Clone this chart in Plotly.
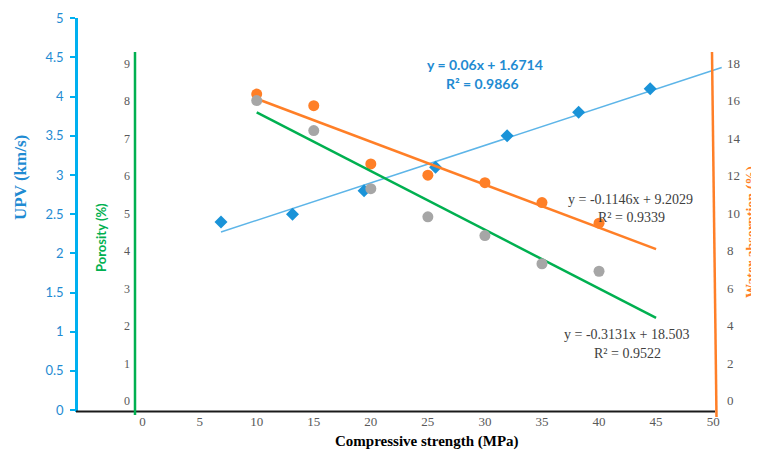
import plotly.graph_objects as go

# ---------------- data ----------------
strength = [10, 15, 20, 25, 30, 35, 40]               # MPa
upv = [2.4, 2.5, 2.8, 3.1, 3.5, 3.8, 4.1]              # km/s
porosity = [8.18, 7.87, 6.32, 6.02, 5.82, 5.29, 4.74]  # % (orange)
water_abs = [16.0, 14.4, 11.3, 9.8, 8.8, 7.3, 6.9]     # % (grey)
trend_x = [10, 45]
upv_fit = [0.06, 1.6714, 0.9866]        # slope, intercept, R2
por_fit = [-0.1146, 9.2029, 0.9339]
wat_fit = [-0.3131, 18.503, 0.9522]
x_ticks = [0, 5, 10, 15, 20, 25, 30, 35, 40, 45, 50]
upv_ticks = [0, 0.5, 1, 1.5, 2, 2.5, 3, 3.5, 4, 4.5, 5]
por_ticks = [0, 1, 2, 3, 4, 5, 6, 7, 8, 9]
wat_ticks = [0, 2, 4, 6, 8, 10, 12, 14, 16, 18]

# ---------------- layout geometry (screen pixels) ----------------
W, H = 759, 454
OFF = 8  # page body margin offset
L, R, T, B = 78, 725, 18, 412


def px(x):
    return (x - L) / (R - L)


def py(y):
    return (B - y) / (B - T)


SERIF = "Liberation Serif"
SANS = "Lato"
BLUE = "#1F8BD2"
ORANGE = "#FF7F27"
GREEN = "#00B050"
GREY_T = "#595959"


def line_of(fit):
    return [fit[0] * x + fit[1] for x in trend_x]


fig = go.Figure()

# UPV (blue) on the main (hidden) x scale
fig.add_trace(go.Scatter(x=trend_x, y=line_of(upv_fit), xaxis="x", yaxis="y",
                         mode="lines", line=dict(color="#5DB5E8", width=1.5),
                         hoverinfo="skip"))
fig.add_trace(go.Scatter(x=strength, y=upv, xaxis="x", yaxis="y", mode="markers",
                         marker=dict(symbol="diamond", size=10, color="#1A93D8")))
# water absorption (grey points, green trend)
fig.add_trace(go.Scatter(x=trend_x, y=line_of(wat_fit), xaxis="x2", yaxis="y3",
                         mode="lines", line=dict(color=GREEN, width=2.5),
                         hoverinfo="skip"))
fig.add_trace(go.Scatter(x=strength, y=water_abs, xaxis="x2", yaxis="y3", mode="markers",
                         marker=dict(symbol="circle", size=11, color="#A6A6A6")))
# porosity (orange)
fig.add_trace(go.Scatter(x=trend_x, y=line_of(por_fit), xaxis="x2", yaxis="y2",
                         mode="lines", line=dict(color=ORANGE, width=2.5),
                         hoverinfo="skip"))
fig.add_trace(go.Scatter(x=strength, y=porosity, xaxis="x2", yaxis="y2", mode="markers",
                         marker=dict(symbol="circle", size=11, color=ORANGE)))

fig.update_layout(
    width=W, height=H,
    margin=dict(l=L - OFF, r=W - (R - OFF), t=T - OFF, b=H - (B - OFF), pad=0,
                autoexpand=False),
    paper_bgcolor="white", plot_bgcolor="rgba(0,0,0,0)",
    showlegend=False,
    xaxis=dict(range=[0.004, 45.23], visible=False, automargin=False),
    xaxis2=dict(range=[-5.662, 51.04], overlaying="x", anchor="y", side="bottom",
                tickvals=x_ticks, showline=False, showgrid=False, automargin=False,
                zeroline=False, ticks="", ticklabelstandoff=0,
                tickfont=dict(family=SERIF, size=13, color=GREY_T)),
    yaxis=dict(range=[-0.0255, 5.004], tickvals=upv_ticks,
               ticktext=[f"{v:g}" for v in upv_ticks], automargin=False,
               showline=True, linecolor="#00B0F0", linewidth=2.5,
               ticks="outside", ticklen=5, tickcolor="#00B0F0", tickwidth=1.5,
               ticklabelstandoff=4,
               showgrid=False, zeroline=False,
               tickfont=dict(family=SANS, size=13, color=BLUE)),
    yaxis2=dict(range=[-0.293, 10.208], overlaying="y", anchor="free", position=px(135),
                side="left", tickvals=por_ticks, showline=False, ticks="",
                ticklabelstandoff=5, automargin=False,
                showgrid=False, zeroline=False,
                tickfont=dict(family=SERIF, size=12, color=GREY_T)),
    yaxis3=dict(range=[-0.602, 20.40], overlaying="y", anchor="free", position=px(714),
                side="right", tickvals=wat_ticks, showline=False, ticks="",
                ticklabelstandoff=12, automargin=False,
                showgrid=False, zeroline=False,
                tickfont=dict(family=SERIF, size=13, color=GREY_T)),
)

# axis lines drawn in paper space
fig.add_shape(type="line", xref="paper", yref="paper", x0=px(76), x1=px(715),
              y0=py(411.5), y1=py(411.5), line=dict(color="#1A1A1A", width=2))
fig.add_shape(type="line", xref="paper", yref="paper", x0=px(135), x1=px(135),
              y0=py(52), y1=py(415), line=dict(color=GREEN, width=2.5))
fig.add_shape(type="line", xref="paper", yref="paper", x0=px(712), x1=px(716.5),
              y0=py(52), y1=py(417), line=dict(color=ORANGE, width=2.5))


def note(text, x, y, font, angle=0):
    fig.add_annotation(text=text, xref="paper", yref="paper", x=px(x), y=py(y),
                       xanchor="center", yanchor="middle", showarrow=False,
                       textangle=angle, font=font)


def eq(fit):
    return f"y = {fit[0]:g}x + {fit[1]:g}", f"R² = {fit[2]:g}"


e1, r1 = eq(upv_fit)
note(f"<b>{e1}</b>", 485, 64, dict(family=SANS, size=14, color=BLUE))
note(f"<b>{r1}</b>", 482, 83, dict(family=SANS, size=14, color=BLUE))
e2, r2 = eq(por_fit)
note(e2, 630, 199, dict(family=SERIF, size=14, color="#404040"))
note(r2, 631, 217, dict(family=SERIF, size=14, color="#404040"))
e3, r3 = eq(wat_fit)
note(e3, 626, 334, dict(family=SERIF, size=14, color="#404040"))
note(r3, 627, 353, dict(family=SERIF, size=14, color="#404040"))

note("<b>UPV (km/s)</b>", 20, 178, dict(family=SERIF, size=17, color=BLUE), -90)
note("<b>Porosity (%)</b>", 101, 238, dict(family=SANS, size=13, color=GREEN), -90)
note("<b>Water absorption (%)</b>", 752, 232, dict(family=SERIF, size=14, color=ORANGE), -90)
note("<b>Compressive strength (MPa)</b>", 427, 441, dict(family=SERIF, size=15, color="#000000"))

fig.write_html("out.html")
